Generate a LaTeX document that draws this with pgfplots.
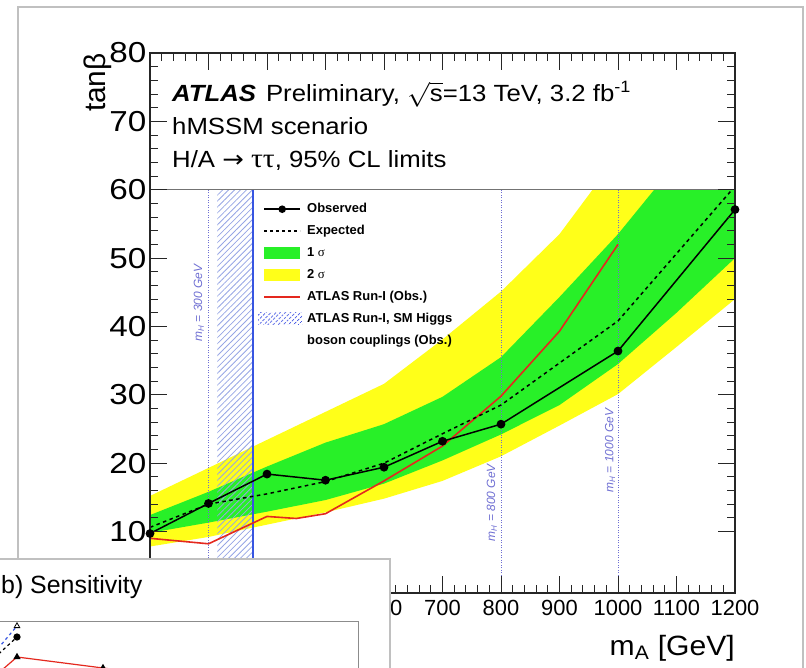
\documentclass[border=0pt]{standalone}
\usepackage{pgfplots}
\pgfplotsset{compat=1.18}
\usepackage{pgfplotstable}
\usetikzlibrary{patterns.meta}
\usepackage{fontspec}
\setmainfont{Liberation Sans}
\newfontfamily\symfont{Liberation Serif}
\newfontfamily\arrowfont{DejaVu Sans}

\definecolor{bandgreen}{RGB}{40,240,40}
\definecolor{bandyellow}{RGB}{255,255,25}
\definecolor{runired}{RGB}{228,40,30}
\definecolor{hatchlight}{RGB}{150,165,228}
\definecolor{hatchdark}{RGB}{55,75,225}
\definecolor{smline}{RGB}{55,85,225}
\definecolor{mhcol}{RGB}{110,110,210}
\definecolor{framegray}{RGB}{192,192,192}

\newcommand{\fs}[1]{\fontsize{#1}{#1}\selectfont}

% legend images share one bounding box so the columns line up
\pgfplotsset{
  leg line/.style={legend image code/.code={%
    \path[draw=none,fill=none] (0bp,-6bp) rectangle (44bp,6bp);
    \draw[mark repeat=2,mark phase=2,##1] plot coordinates {(6bp,0bp) (24bp,0bp) (42bp,0bp)};}},
  leg box/.style={legend image code/.code={%
    \path[draw=none,fill=none] (0bp,-6bp) rectangle (44bp,6bp);
    \fill[##1, draw=none] (6bp,-6bp) rectangle (42bp,6bp);}},
  leg hatch/.style={legend image code/.code={%
    \path[draw=none,fill=none] (0bp,-6bp) rectangle (44bp,6bp);
    \fill[draw=none, pattern={Lines[angle=45,distance=3.6bp,line width=1.1bp]},pattern color=hatchdark] (0bp,-6bp) rectangle (44bp,6bp);}},
}

\pgfplotstableread{
mA    obs   exp
200   9.7   10.6
300   14.1  14.0
400   18.4  15.5
500   17.5  17.3
600   19.4  20.0
700   23.2  24.3
800   25.7  28.5
1000  36.4  40.8
1200  57.1  60.5
}\limits

% ATLAS Run-I observed limit
\pgfplotstableread{
mA    tb
200   9.0
300   8.2
400   12.2
450   11.9
500   12.6
600   17.4
700   22.5
800   29.8
900   39.3
1000  52.0
}\runone

\begin{document}
\begin{tikzpicture}

% page frame
\draw[framegray, line width=1.5bp] (18bp,-20bp) rectangle (803bp,661bp);

\begin{axis}[
  name=main,
  at={(150bp,75bp)}, anchor=south west,
  width=585bp, height=540bp, scale only axis,
  xmin=200, xmax=1200, ymin=1, ymax=80,
  xtick={200,300,...,1200}, ytick={10,20,...,80},
  minor x tick num=4, minor y tick num=4,
  major tick length=17bp, minor tick length=8bp,
  tick align=inside,
  axis on top,
  axis line style={black!85, line width=1.2bp},
  tick style={black!85, line width=1bp},
  /pgf/number format/assume math mode=true,
  /pgf/number format/1000 sep={},
  xticklabel style={font=\fs{22}, inner sep=0pt, yshift=-7bp},
  yticklabel style={font=\fs{29}, xscale=1.15, inner sep=0pt, xshift=-3bp},
  legend style={at={(0.1846,0.7222)}, anchor=north west, draw=none, fill=none,
    inner sep=0pt, font=\bfseries\fs{13}, row sep=9.9bp, column sep=5bp,
    nodes={inner sep=0pt, text height=9.5bp, text depth=2.5bp}},
  legend cell align=left,
  legend image post style={line width=1.5bp},
]
% 2 sigma band: upper edge left to right, lower edge back
\addplot[fill=bandyellow, draw=none, forget plot] coordinates {
  (200,15.2) (300,19.3) (400,23.4) (500,27.5) (600,31.6) (700,38.1)
  (800,45.1) (900,53.5) (1000,65.0) (1100,78.0) (1200,90.0)
  (1200,44.0) (1100,37.0) (1000,30.1) (900,25.5) (800,21.0) (700,17.4)
  (600,14.8) (500,12.8) (400,11.0) (300,9.2) (200,7.8)};
% 1 sigma band
\addplot[fill=bandgreen, draw=none, forget plot] coordinates {
  (200,12.4) (300,15.8) (400,19.5) (500,23.0) (600,25.7) (700,29.7)
  (800,35.5) (900,44.3) (1000,53.5) (1100,64.0) (1200,75.0)
  (1200,50.0) (1100,42.0) (1000,34.5) (900,28.5) (800,24.2) (700,20.4)
  (600,17.0) (500,14.6) (400,12.9) (300,11.3) (200,9.8)};

% Run-I SM Higgs couplings exclusion
\addplot[draw=none, pattern={Lines[angle=45,distance=4.2bp,line width=0.8bp]},
  pattern color=hatchlight, forget plot]
  coordinates {(315,1) (376,1) (376,60) (315,60)};
\addplot[smline, line width=1.5bp, forget plot] coordinates {(376,1) (376,60)};

% heavy Higgs mass reference lines
\addplot[mhcol, line width=0.8bp, dash pattern=on 1bp off 1.5bp, forget plot] coordinates {(300,1) (300,60)};
\addplot[mhcol, line width=0.8bp, dash pattern=on 1bp off 1.5bp, forget plot] coordinates {(800,1) (800,60)};
\addplot[mhcol, line width=0.8bp, dash pattern=on 1bp off 1.5bp, forget plot] coordinates {(1000,1) (1000,60)};
\node[rotate=90, anchor=base, inner sep=0pt, text=mhcol, font=\itshape\fs{12}] at (axis cs:289,43.4) {m\textsubscript{H} = 300 GeV};
\node[rotate=90, anchor=base, inner sep=0pt, text=mhcol, font=\itshape\fs{12}] at (axis cs:790,14.2) {m\textsubscript{H} = 800 GeV};
\node[rotate=90, anchor=base, inner sep=0pt, text=mhcol, font=\itshape\fs{12}] at (axis cs:992,21.8) {m\textsubscript{H} = 1000 GeV};

% limits
\addplot[runired, line width=1.6bp, forget plot] table[x=mA,y=tb]{\runone};
\addplot[black, line width=1.5bp, dash pattern=on 3.5bp off 3.5bp, forget plot] table[x=mA,y=exp]{\limits};
\addplot[black, line width=1.5bp, mark=*, mark size=3.6bp, forget plot] table[x=mA,y=obs]{\limits};

% header panel
\addplot[fill=white, draw=none, forget plot] coordinates {(200,60) (1200,60) (1200,80) (200,80)};
\addplot[black!55, line width=1.2bp, forget plot] coordinates {(200,60) (1200,60)};
\node[anchor=base west, inner sep=0pt, xscale=1.1, font=\fs{23.5}] at (axis cs:237.6,72.85)
  {{\bfseries\itshape ATLAS}\hspace{9bp}Preliminary, $\sqrt{\mathrm{s}}$=13 TeV, 3.2 fb\textsuperscript{-1}};
\node[anchor=base west, inner sep=0pt, xscale=1.1, font=\fs{23.5}] at (axis cs:237.6,68.04) {hMSSM scenario};
\node[anchor=base west, inner sep=0pt, xscale=1.1, font=\fs{23.5}] at (axis cs:237.6,63.23)
  {H/A {\arrowfont\fs{23.5}→} {\symfont\fs{27}ττ}, 95\% CL limits};

% legend
\addlegendimage{leg line, black, line width=1.5bp, mark=*, mark size=3bp}
\addlegendentry{Observed}
\addlegendimage{leg line, black, line width=1.5bp, dash pattern=on 3bp off 3bp}
\addlegendentry{Expected}
\addlegendimage{leg box, bandgreen}
\addlegendentry{1 {\mdseries\symfont σ}}
\addlegendimage{leg box, bandyellow}
\addlegendentry{2 {\mdseries\symfont σ}}
\addlegendimage{leg line, runired, line width=1.8bp}
\addlegendentry{ATLAS Run-I (Obs.)}
\addlegendimage{leg hatch}
\addlegendentry{ATLAS Run-I, SM Higgs}
\addlegendimage{empty legend}
\addlegendentry{boson couplings (Obs.)}
\end{axis}

% axis titles
\node[rotate=90, anchor=base east, inner sep=0pt, font=\fs{30}] at (105bp,615bp) {tanβ};
\node[anchor=base east, inner sep=0pt, xscale=1.08, font=\fs{28}] at (735bp,13bp) {m\textsubscript{A} [GeV]};

% sensitivity panel
\draw[framegray, line width=1.2bp, fill=white] (-10bp,-10bp) rectangle (390bp,109bp);
\node[anchor=base west, inner sep=0pt, font=\fs{25}] at (1bp,74bp) {b) Sensitivity};
\begin{axis}[
  at={(-50bp,-153bp)}, anchor=south west,
  width=408bp, height=200bp, scale only axis,
  xmin=-50, xmax=358, ymin=-153, ymax=47,
  ticks=none, clip=true,
  axis line style={black!45, line width=1bp},
]
\addplot[smline, line width=1.2bp, dash pattern=on 3bp off 3bp,
  mark=triangle*, mark size=3.2bp, mark indices={2},
  mark options={solid, fill=white, draw=black, line width=0.8bp}]
  coordinates {(-10,10) (17,42)};
\addplot[black, line width=1.2bp, dash pattern=on 3bp off 3bp,
  mark=*, mark size=3bp, mark indices={2}, mark options={solid}]
  coordinates {(-10,6) (17,31)};
\addplot[runired, line width=1.2bp, mark=triangle*, mark size=3bp,
  mark indices={2,3}, mark options={black}]
  coordinates {(0,-3.7) (17,11) (103,0) (180,-10)};
\end{axis}
\pgfresetboundingbox
\path (0bp,0bp) rectangle (806bp,668bp);
\end{tikzpicture}
\end{document}
